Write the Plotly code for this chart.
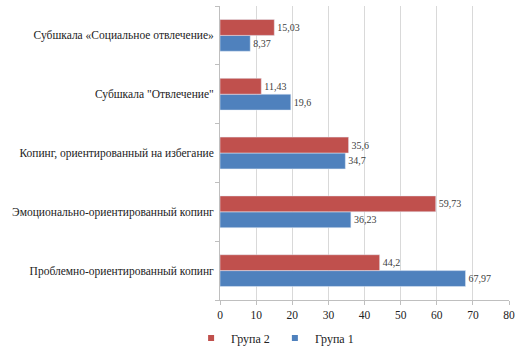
import plotly.graph_objects as go

categories = [
    "Проблемно-ориентированный копинг",
    "Эмоционально-ориентированный копинг",
    "Копинг, ориентированный на избегание",
    "Субшкала \"Отвлечение\"",
    "Субшкала «Социальное отвлечение»",
]
group1 = [67.97, 36.23, 34.7, 19.6, 8.37]
group2 = [44.2, 59.73, 35.6, 11.43, 15.03]
group1_labels = ["67,97", "36,23", "34,7", "19,6", "8,37"]
group2_labels = ["44,2", "59,73", "35,6", "11,43", "15,03"]
x_ticks = [0, 10, 20, 30, 40, 50, 60, 70, 80]

FF = "Times New Roman, Liberation Serif, serif"
RED = "#C0504D"
BLUE = "#4F81BD"

fig = go.Figure()
fig.add_trace(go.Bar(
    y=categories, x=group1, orientation="h", name="Група 1",
    marker=dict(color=BLUE), showlegend=False,
    text=group1_labels, textposition="outside", cliponaxis=False,
    textfont=dict(family=FF, size=10, color="#404040"),
))
fig.add_trace(go.Bar(
    y=categories, x=group2, orientation="h", name="Група 2",
    marker=dict(color=RED), showlegend=False,
    text=group2_labels, textposition="outside", cliponaxis=False,
    textfont=dict(family=FF, size=10, color="#404040"),
))
# legend entries with small square keys
fig.add_trace(go.Scatter(x=[None], y=[None], mode="markers", name="Група 1",
                         marker=dict(symbol="square", size=6, color=BLUE)))
fig.add_trace(go.Scatter(x=[None], y=[None], mode="markers", name="Група 2",
                         marker=dict(symbol="square", size=6, color=RED)))

fig.update_layout(
    width=523, height=347,
    barmode="group", bargap=0.46, bargroupgap=0,
    paper_bgcolor="white", plot_bgcolor="white",
    margin=dict(l=220, r=14, t=6, b=47, autoexpand=False),
    font=dict(family=FF, size=11.5, color="#222222"),
    showlegend=True,
    legend=dict(orientation="h", x=-0.1, xanchor="left", y=-0.08, yanchor="top",
                traceorder="reversed", font=dict(family=FF, size=12, color="#222222"),
                itemwidth=30, tracegroupgap=0),
    xaxis=dict(range=[0, 80], tickvals=x_ticks, showgrid=True, gridcolor="#D9D9D9",
               gridwidth=1, showline=True, linecolor="#BFBFBF", zeroline=False,
               ticks="outside", ticklen=4, tickcolor="#BFBFBF", automargin=False,
               tickfont=dict(family=FF, size=11.5, color="#222222")),
    yaxis=dict(showline=True, linecolor="#BFBFBF", ticks="outside", ticklen=4,
               tickcolor="#BFBFBF", tickson="boundaries", showgrid=False,
               automargin=False, categoryorder="array", categoryarray=categories,
               tickfont=dict(family=FF, size=11.5, color="#222222"), ticksuffix=" "),
)

fig.write_html("out.html", config={"displayModeBar": False},
               post_script="document.body.style.margin='0';")
